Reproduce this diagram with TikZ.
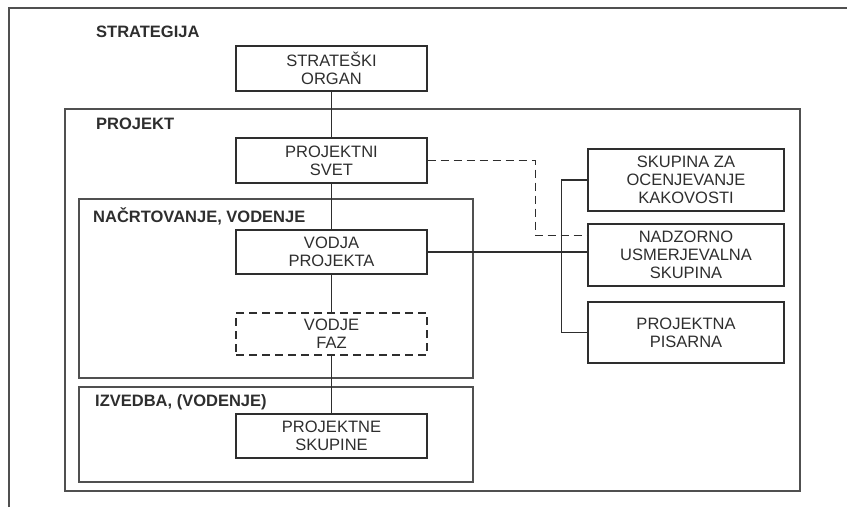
\documentclass[tikz,border=0pt]{standalone}
\usepackage{fontspec}
\setmainfont{Liberation Sans}
\usetikzlibrary{calc}
\definecolor{ink}{HTML}{2e2e2e}
\definecolor{frm}{HTML}{505050}
\begin{document}
\begin{tikzpicture}[x=1pt,y=-1pt,
  box/.style={draw=ink,line width=1.2pt,rectangle,inner sep=0pt,align=center,
    text=ink,font=\fontsize{16.5}{18}\selectfont},
  midbox/.style={box,minimum width=191pt},
  sidebox/.style={box,minimum width=196pt},
  dbox/.style={midbox,dash pattern=on 8pt off 5pt},
  frame/.style={draw=frm,line width=1.3pt},
  lbl/.style={anchor=base west,inner sep=0pt,text=ink,font=\fontsize{16.5}{18}\selectfont\bfseries},
  conn/.style={draw=ink,line width=1.1pt},
  dconn/.style={draw=ink,line width=1.3pt,dash pattern=on 8pt off 5pt}]
\useasboundingbox (0,0) rectangle (847,507);
% outer frame (cropped)
\draw[frame] (9,507) -- (9,8) -- (847,8);
% frames
\draw[frame] (65,109) rectangle (800,491);
\draw[frame] (79,199) rectangle (473,378);
\draw[frame] (79,387) rectangle (473,482);
% labels
\node[lbl] (lstr) at (96,37) {STRATEGIJA};
\node[lbl] (lpro) at (96,129) {PROJEKT};
\node[lbl] (lnac) at (93,222) {NAČRTOVANJE, VODENJE};
\node[lbl] (lizv) at (95,406) {IZVEDBA, (VODENJE)};
% boxes
\node[midbox,minimum height=45pt,fill=white] (str) at (331.5,68.5) {STRATEŠKI\\ORGAN};
\node[midbox,minimum height=45pt,fill=white] (svet) at (331.5,160.5) {PROJEKTNI\\SVET};
\node[midbox,minimum height=44pt,fill=white] (vodja) at (331.5,252) {VODJA\\PROJEKTA};
\node[dbox,minimum height=42pt,fill=white] (faz) at (331.5,334) {VODJE\\FAZ};
\node[midbox,minimum height=44pt,fill=white] (skup) at (331.5,436) {PROJEKTNE\\SKUPINE};
\node[sidebox,minimum height=62pt] (kak) at (686,180) {SKUPINA ZA\\OCENJEVANJE\\KAKOVOSTI};
\node[sidebox,minimum height=62pt] (nad) at (686,255) {NADZORNO\\USMERJEVALNA\\SKUPINA};
\node[sidebox,minimum height=61pt] (pis) at (686,332.5) {PROJEKTNA\\PISARNA};
% connectors
\draw[conn] (str.south) -- (svet.north);
\draw[conn] (svet.south) -- (vodja.north);
\draw[conn] (vodja.south) -- (faz.north);
\draw[conn] (faz.south) -- (skup.north);
\draw[conn] (vodja.east) -- (vodja.east -| nad.west);
\draw[conn] (kak.west) -- ++(-26,0) |- (pis.west);
\coordinate (dnad) at ([yshift=-12pt]nad.north west);
\draw[dconn] (svet.east) -| ($(dnad)+(-52,0)$) -- (dnad);
\end{tikzpicture}
\end{document}
